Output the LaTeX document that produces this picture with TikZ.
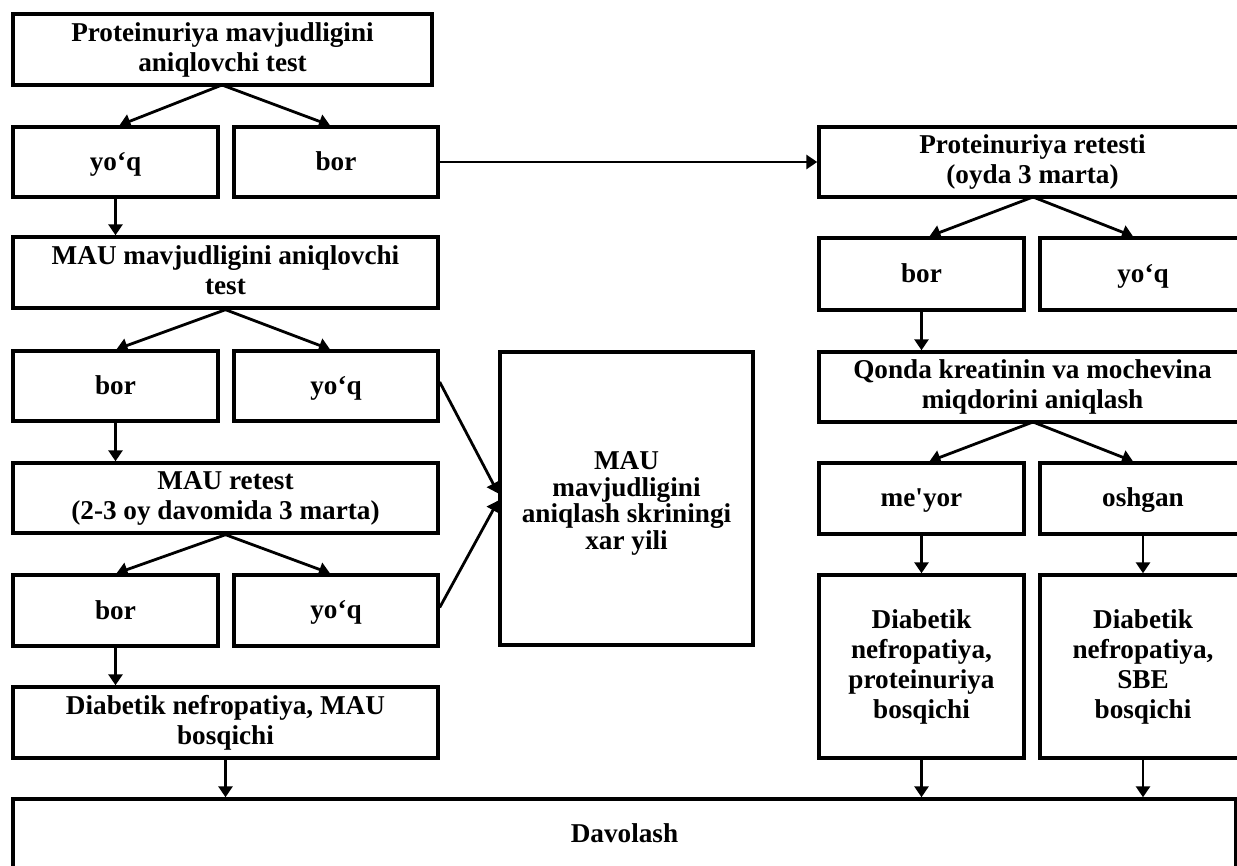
\documentclass[tikz,border=0pt]{standalone}
\usepackage{fontspec}
\setmainfont[Ligatures=TeXOff]{Liberation Serif}
\usetikzlibrary{arrows.meta,calc}
\newcommand\topstrut{\rule{0pt}{11pt}}
\newcommand\botstrut{\rule[-2.5pt]{0pt}{2.5pt}}
\tikzset{
  txt/.style={inner sep=0pt, align=center,
    font=\fontsize{13.6}{15}\selectfont\bfseries,
    execute at begin node=\topstrut, execute at end node=\botstrut},
  box/.style={txt, draw, line width=1.7pt},
  arr/.style={line width=1.4pt, -{Triangle[length=5.5pt,width=7pt]}}
}
\newcommand\bx[6]{\node[box,minimum width={(#4-#2)*0.5pt},minimum height={(#5-#3)*0.5pt}] (#1) at ({(#2+#4)/2},{(#3+#5)/2}) {#6};}
\begin{document}
\begin{tikzpicture}[x=0.5pt,y=-0.5pt]
\clip (0,0) rectangle (1237,866);
\fill[white] (0,0) rectangle (1237,866);
% left column
\bx{top}{13}{14}{432}{85}{Proteinuriya mavjudligini\\aniqlovchi test}
\bx{nay}{13}{127}{218}{197}{yo‘q}
\bx{nab}{234}{127}{438}{197}{bor}
\bx{mau}{13}{237}{438}{308}{MAU mavjudligini aniqlovchi\\test}
\bx{nbb}{13}{351}{218}{421}{bor}
\bx{nby}{234}{351}{438}{421}{yo‘q}
\bx{ret}{13}{463}{438}{533}{MAU retest\\(2-3 oy davomida 3 marta)}
\bx{ncb}{13}{575}{218}{646}{bor}
\bx{ncy}{234}{575}{438}{646}{yo‘q}
\bx{dnm}{13}{687}{438}{758}{Diabetik nefropatiya, MAU\\bosqichi}
\bx{dav}{13}{799}{1236}{868}{Davolash}
% middle
\bx{skr}{500}{352}{753}{645}{}
\node[txt, font=\fontsize{13.6}{13.4}\selectfont\bfseries] (skrt) at ($(skr.center)+(0,5)$) {MAU\\mavjudligini\\aniqlash skriningi\\xar yili};
% right column
\bx{pr}{819}{127}{1246}{197}{Proteinuriya retesti\\(oyda 3 marta)}
\bx{rab}{819}{238}{1024}{310}{bor}
\bx{ray}{1040}{238}{1246}{310}{yo‘q}
\bx{qon}{819}{352}{1246}{422}{Qonda kreatinin va mochevina\\miqdorini aniqlash}
\bx{rbm}{819}{463}{1024}{534}{me'yor}
\bx{rbo}{1040}{463}{1246}{534}{oshgan}
\bx{dp}{819}{575}{1024}{758}{Diabetik\\nefropatiya,\\proteinuriya\\bosqichi}
\bx{ds}{1040}{575}{1246}{758}{Diabetik\\nefropatiya,\\SBE\\bosqichi}
% connectors left
\coordinate (top0) at (222,85);
\draw[arr] (top0) -- ($(nay.north)+(4,0)$);
\draw[arr] (top0) -- ($(nab.north)+(-6,0)$);
\draw[arr] (nab.east) -- (nab.east -| pr.west);
\draw[arr] (nay.south) -- (nay.south |- mau.north);
\draw[arr] (mau.south) -- ($(nbb.north)+(1,0)$);
\draw[arr] (mau.south) -- ($(nby.north)+(-6,0)$);
\draw[arr] (nbb.south) -- (nbb.south |- ret.north);
\draw[arr] (ret.south) -- ($(ncb.north)+(1,0)$);
\draw[arr] (ret.south) -- ($(ncy.north)+(-6,0)$);
\draw[arr] (ncb.south) -- (ncb.south |- dnm.north);
\draw[arr] (dnm.south) -- (dnm.south |- dav.north);
\draw[arr] ($(nby.east)+(0,-4)$) -- ($(skr.west)+(0,-5)$);
\draw[arr] ($(ncy.east)+(0,-3)$) -- ($(skr.west)+(0,2)$);
% connectors right
\coordinate (pr0) at (1033,197);
\draw[arr] (pr0) -- ($(rab.north)+(8,0)$);
\draw[arr] (pr0) -- ($(ray.north)+(-10,0)$);
\draw[arr] (rab.south) -- (rab.south |- qon.north);
\coordinate (qon0) at (1033,422);
\draw[arr] (qon0) -- ($(rbm.north)+(8,0)$);
\draw[arr] (qon0) -- ($(rbo.north)+(-10,0)$);
\draw[arr] (rbm.south) -- (rbm.south |- dp.north);
\draw[arr] (rbo.south) -- (rbo.south |- ds.north);
\draw[arr] (dp.south) -- (dp.south |- dav.north);
\draw[arr] (ds.south) -- (ds.south |- dav.north);
\end{tikzpicture}
\end{document}
